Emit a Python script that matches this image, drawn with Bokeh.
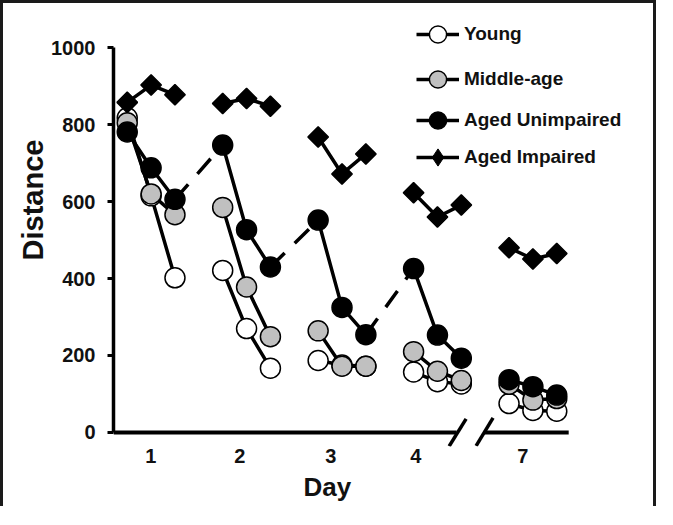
import math
from bokeh.plotting import figure
from bokeh.models import Range1d, FixedTicker, Legend, LegendItem, Title
from bokeh.embed import file_html
from bokeh.resources import INLINE

# ---------------- data ----------------
days = [1, 2, 3, 4, 7]
trials = [1, 2, 3]
day_labels = ["1", "2", "3", "4", "7"]
y_ticks = [0, 200, 400, 600, 800, 1000]

young = [[818, 615, 402], [421, 270, 167], [187, 175, 172], [157, 132, 126], [75, 57, 55]]
middle_age = [[805, 620, 566], [585, 378, 249], [264, 172, 172], [210, 159, 135], [125, 84, 88]]
aged_unimpaired = [[781, 688, 606], [747, 527, 430], [552, 325, 254], [426, 253, 193], [137, 119, 97]]
aged_impaired = [[858, 903, 878], [855, 868, 848], [768, 672, 724], [623, 560, 591], [480, 451, 465]]

# ---------------- layout constants ----------------
SLOT = 4                      # trials per day slot (3 trials + gap)
day_tick_pos = [1.99, 5.72, 9.53, 13.09, 17.58]
FONT = "Liberation Sans"
INK = "#111111"

p = figure(width=656, height=506,
           x_range=Range1d(0.424, 22.97), y_range=Range1d(-36.65, 1102.1),
           output_backend="svg", toolbar_location=None,
           min_border_left=110, min_border_right=8,
           min_border_top=5, min_border_bottom=63)
p.styles = {"border-top": "3px solid #1a1a1a", "border-left": "3px solid #1a1a1a",
            "border-right": "3px solid #1a1a1a"}
p.grid.visible = False
p.outline_line_color = None
p.background_fill_color = "white"
p.border_fill_color = "white"

def positions():
    return [[SLOT * s + t for t in trials] for s in range(len(days))]

def flat(a):
    return [v for row_ in a for v in row_]

def draw(series, fill, marker, size, angle=0.0):
    xs = positions()
    lr = p.multi_line(xs, series, line_color="black", line_width=3.5)
    sr = p.scatter(flat(xs), flat(series), marker=marker, size=size, angle=angle,
                   fill_color=fill, line_color="black", line_width=1.5)
    return [lr, sr]

r_young = draw(young, "white", "circle", 20)
r_mid = draw(middle_age, "#c0c0c0", "circle", 20)

# dashed connectors between days (Aged Unimpaired, days 1->2, 2->3, 3->4)
xs = positions()
x0 = [xs[s][-1] for s in range(3)]
x1 = [xs[s + 1][0] for s in range(3)]
y0 = [aged_unimpaired[s][-1] for s in range(3)]
y1 = [aged_unimpaired[s + 1][0] for s in range(3)]
p.segment(x0, y0, x1, y1, line_color="black", line_width=3.5, line_dash="20 14")

r_au = draw(aged_unimpaired, "black", "circle", 20)
r_ai = draw(aged_impaired, "black", "square", 14.5, angle=math.pi / 4)
# legend-only diamond proxy (NaN point, never drawn in the plot area)
r_ai_leg = p.scatter(x=[float("nan")], y=[float("nan")], marker="diamond", size=20,
                     fill_color="black", line_color="black")

# x axis line with a break between day 4 and day 7
p.segment([0.424, 15.95], [0, 0], [14.8, 19.5], [0, 0], line_color="black", line_width=4)
p.segment([14.49, 15.62], [-36, -35], [15.2, 16.33], [35, 38], line_color="black", line_width=3.5)

# ---------------- axes ----------------
yax = p.yaxis[0]
yax.ticker = FixedTicker(ticks=y_ticks)
yax.bounds = (0, 1000)
yax.axis_line_width = 3.5
yax.axis_line_color = "black"
yax.major_tick_line_width = 3
yax.major_tick_out = 6
yax.major_tick_in = 0
yax.minor_tick_line_color = None
yax.major_label_standoff = 12
yax.major_label_text_font = FONT
yax.major_label_text_font_size = "20px"
yax.major_label_text_font_style = "bold"
yax.major_label_text_color = INK

xax = p.xaxis[0]
xax.ticker = FixedTicker(ticks=day_tick_pos)
xax.major_label_overrides = {pos: lab for pos, lab in zip(day_tick_pos, day_labels)}
xax.axis_line_color = None
xax.major_tick_line_color = None
xax.minor_tick_line_color = None
xax.major_tick_out = 0
xax.major_tick_in = 0
xax.major_label_standoff = 2
xax.major_label_text_font = FONT
xax.major_label_text_font_size = "20px"
xax.major_label_text_font_style = "bold"
xax.major_label_text_color = INK

p.add_layout(Title(text="Distance", align="left", offset=186, standoff=0,
                   text_font=FONT, text_font_size="29px", text_font_style="bold",
                   text_color=INK), "left")
p.add_layout(Title(text="Day", align="left", offset=190, standoff=8,
                   text_font=FONT, text_font_size="26px", text_font_style="bold",
                   text_color=INK), "below")

# ---------------- legend (one per entry to match spacing) ----------------
names = ["Young", "Middle-age", "Aged Unimpaired", "Aged Impaired"]
rends = [r_young, r_mid, r_au, [r_ai[0], r_ai_leg]]
legend_bottom = [389, 344, 303, 266]
for name, rs, bot in zip(names, rends, legend_bottom):
    lg = Legend(items=[LegendItem(label=name, renderers=rs)], location=(303, bot),
                glyph_width=43, glyph_height=46, label_height=22, label_standoff=5,
                padding=0, margin=0, spacing=0,
                background_fill_alpha=0, border_line_alpha=0,
                label_text_font=FONT, label_text_font_size="19px",
                label_text_font_style="bold", label_text_color=INK)
    p.add_layout(lg)

open("out.html", "w").write(file_html(p, INLINE))
